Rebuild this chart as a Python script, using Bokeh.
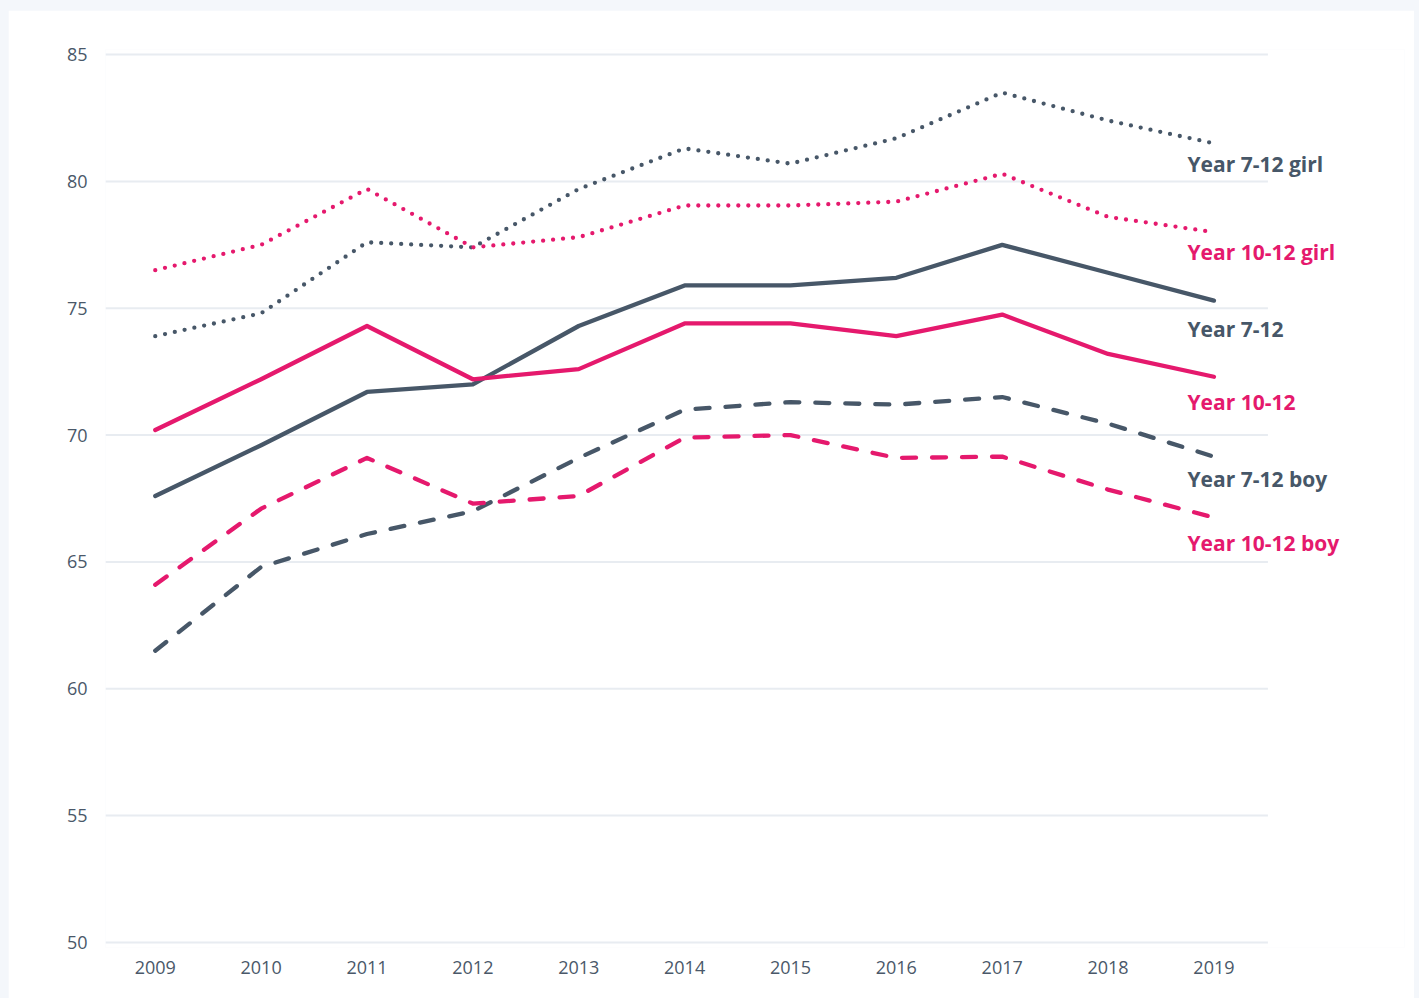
from bokeh.plotting import figure
from bokeh.models import FixedTicker, Range1d, Label
from bokeh.embed import file_html
from bokeh.resources import INLINE

years = [2009, 2010, 2011, 2012, 2013, 2014, 2015, 2016, 2017, 2018, 2019]

y712_girl = [73.9, 74.8, 77.6, 77.4, 79.7, 81.3, 80.7, 81.7, 83.5, 82.4, 81.5]
y1012_girl = [76.5, 77.5, 79.7, 77.4, 77.8, 79.05, 79.05, 79.2, 80.3, 78.6, 78.0]
y712 = [67.6, 69.6, 71.7, 72.0, 74.3, 75.9, 75.9, 76.2, 77.5, 76.4, 75.3]
y1012 = [70.2, 72.2, 74.3, 72.2, 72.6, 74.4, 74.4, 73.9, 74.75, 73.2, 72.3]
y712_boy = [61.5, 64.8, 66.1, 67.0, 69.1, 71.0, 71.3, 71.2, 71.5, 70.45, 69.15]
y1012_boy = [64.1, 67.1, 69.1, 67.3, 67.6, 69.9, 70.0, 69.1, 69.15, 67.85, 66.75]

series_names = ["Year 7-12 girl", "Year 10-12 girl", "Year 7-12", "Year 10-12", "Year 7-12 boy", "Year 10-12 boy"]
label_x = [2018.75] * 6
label_y = [80.7, 77.2, 74.2, 71.3, 68.25, 65.75]

y_ticks = [50, 55, 60, 65, 70, 75, 80, 85]
grid_start = 2008.53
grid_end = 2019.51

DARK = "#475768"
PINK = "#e5196d"
TICK = "#4a5869"
GRID = "#e8ecf1"
FONT = "Open Sans"

p = figure(width=1406, height=988, output_backend="svg", toolbar_location=None,
           x_range=Range1d(2008.53, 2020.80), y_range=Range1d(49.8, 85.2),
           min_border_left=97, min_border_right=10, min_border_top=39, min_border_bottom=51)
p.outline_line_color = None
p.background_fill_color = "white"
p.border_fill_color = "white"

p.xaxis.ticker = FixedTicker(ticks=years)
p.yaxis.ticker = FixedTicker(ticks=y_ticks)
for ax in (p.xaxis, p.yaxis):
    ax.axis_line_color = None
    ax.major_tick_line_color = None
    ax.minor_tick_line_color = None
    ax.major_label_text_color = TICK
    ax.major_label_text_font = FONT
    ax.major_label_text_font_size = "18px"
p.xaxis.major_label_standoff = 7
p.yaxis.major_label_standoff = 12
p.xgrid.grid_line_color = None
p.ygrid.grid_line_color = None

p.segment(x0=[grid_start] * len(y_ticks), y0=y_ticks, x1=[grid_end] * len(y_ticks), y1=y_ticks,
          line_color=GRID, line_width=2)

styles = [
    (y712_girl, DARK, "0 10"),
    (y1012_girl, PINK, "0 10"),
    (y712, DARK, "solid"),
    (y1012, PINK, "solid"),
    (y712_boy, DARK, "14 16"),
    (y1012_boy, PINK, "14 16"),
]
for vals, col, dash in styles:
    p.line(years, vals, line_color=col, line_width=4.3, line_dash=dash,
           line_cap="round", line_join="round")

label_colors = [DARK, PINK, DARK, PINK, DARK, PINK]
for name, lx, ly, col in zip(series_names, label_x, label_y, label_colors):
    p.add_layout(Label(x=lx, y=ly, text=name, text_color=col, text_font=FONT,
                       text_font_size="21px", text_font_style="bold",
                       text_baseline="middle", text_align="left"))

html = file_html(p, INLINE)
html = html.replace("</head>",
                    "<style>html, body { margin: 0 !important; background: #f4f7fb !important; }"
                    " body { padding: 10px 0 0 8px !important; }</style></head>", 1)
open("out.html", "w").write(html)
